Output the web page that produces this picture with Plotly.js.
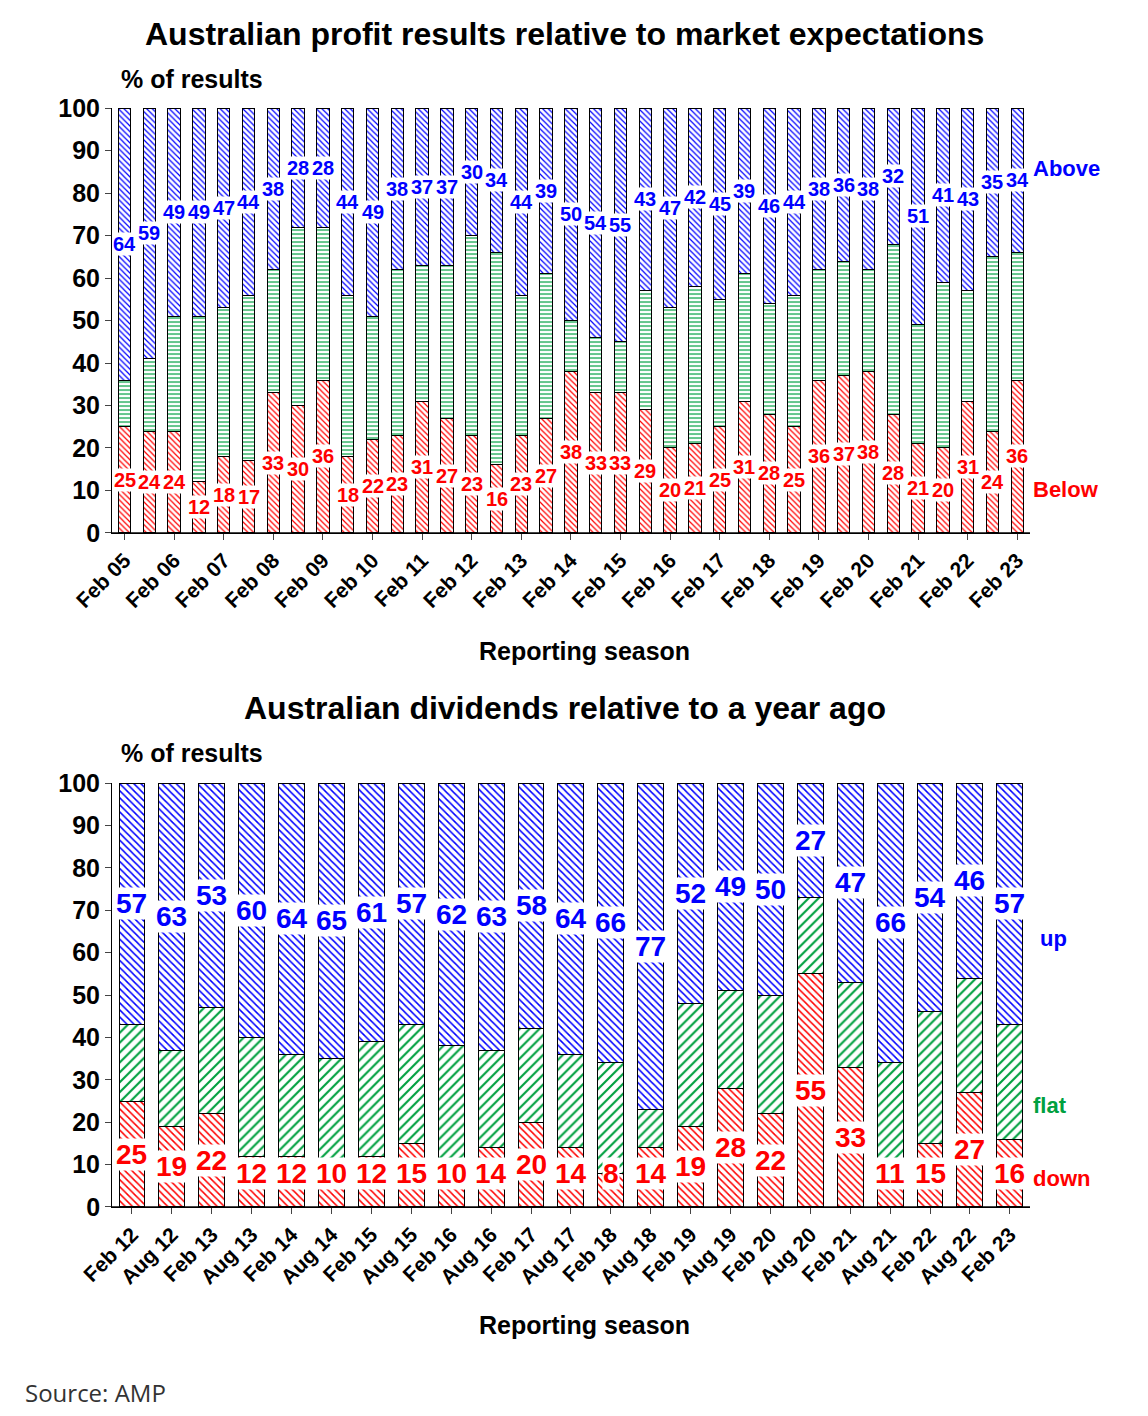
<!DOCTYPE html>
<html><head><meta charset="utf-8">
<script src="https://cdn.plot.ly/plotly-3.0.1.min.js"></script>
<style>body{margin:0;background:#fff}</style></head>
<body><div id="chart" style="width:1148px;height:1416px"></div>
<script>
// top chart: profit results vs expectations
var profitSeasons = ["Feb 05","Aug 05","Feb 06","Aug 06","Feb 07","Aug 07","Feb 08","Aug 08","Feb 09","Aug 09",
  "Feb 10","Aug 10","Feb 11","Aug 11","Feb 12","Aug 12","Feb 13","Aug 13","Feb 14","Aug 14","Feb 15","Aug 15",
  "Feb 16","Aug 16","Feb 17","Aug 17","Feb 18","Aug 18","Feb 19","Aug 19","Feb 20","Aug 20","Feb 21","Aug 21",
  "Feb 22","Aug 22","Feb 23"];
var profitBelow = [25,24,24,12,18,17,33,30,36,18,22,23,31,27,23,16,23,27,38,33,33,29,20,21,25,31,28,25,36,37,38,28,21,20,31,24,36];
var profitAbove = [64,59,49,49,47,44,38,28,28,44,49,38,37,37,30,34,44,39,50,54,55,43,47,42,45,39,46,44,38,36,38,32,51,41,43,35,34];
var profitFlat = profitAbove.map(function(a, i){ return 100 - a - profitBelow[i]; });
var profitTicks = profitSeasons.filter(function(s){ return s.indexOf("Feb") === 0; });

// bottom chart: dividends vs a year ago
var divSeasons = ["Feb 12","Aug 12","Feb 13","Aug 13","Feb 14","Aug 14","Feb 15","Aug 15","Feb 16","Aug 16",
  "Feb 17","Aug 17","Feb 18","Aug 18","Feb 19","Aug 19","Feb 20","Aug 20","Feb 21","Aug 21","Feb 22","Aug 22","Feb 23"];
var divDown = [25,19,22,12,12,10,12,15,10,14,20,14,8,14,19,28,22,55,33,11,15,27,16];
var divUp = [57,63,53,60,64,65,61,57,62,63,58,64,66,77,52,49,50,27,47,66,54,46,57];
var divFlat = divUp.map(function(u, i){ return 100 - u - divDown[i]; });

var RED = "#ff0000", GREEN = "#00a040", BLUE = "#0000ff";
var F = "Liberation Sans, Arial, sans-serif";

function bar(x, y, shape, col, xa, ya, sz, w) {
  return {type: "bar", x: x, y: y, xaxis: xa, yaxis: ya, hoverinfo: "skip", width: w,
    marker: {color: "white", line: {color: "#000", width: 1},
      pattern: {shape: shape, fgcolor: col, bgcolor: "white", size: sz, solidity: 0.3}}};
}

var data = [
  bar(profitSeasons, profitBelow, "\\", RED, "x", "y", 4, 0.5),
  bar(profitSeasons, profitFlat, "-", GREEN, "x", "y", 4, 0.5),
  bar(profitSeasons, profitAbove, "\\", BLUE, "x", "y", 4, 0.5),
  bar(divSeasons, divDown, "\\", RED, "x2", "y2", 5, 0.65),
  bar(divSeasons, divFlat, "/", GREEN, "x2", "y2", 7, 0.65),
  bar(divSeasons, divUp, "\\", BLUE, "x2", "y2", 5, 0.65)
];

var ann = [];
function lbl(xa, ya, x, y, v, col, size) {
  ann.push({xref: xa, yref: ya, x: x, y: y, text: "<b>" + v + "</b>", showarrow: false,
    bgcolor: "white", borderpad: 0, font: {family: F, size: size, color: col}});
}
profitSeasons.forEach(function(s, i){
  lbl("x", "y", s, profitBelow[i] / 2, profitBelow[i], RED, 20);
  lbl("x", "y", s, 100 - profitAbove[i] / 2, profitAbove[i], BLUE, 20);
});
divSeasons.forEach(function(s, i){
  lbl("x2", "y2", s, Math.max(divDown[i] / 2, 8), divDown[i], RED, 28);
  lbl("x2", "y2", s, 100 - divUp[i] / 2, divUp[i], BLUE, 28);
});
function txt(x, y, t, col, size, bold, anchor, fam) {
  ann.push({xref: "paper", yref: "paper", x: x, y: y, text: bold ? "<b>" + t + "</b>" : t, showarrow: false,
    xanchor: anchor || "center", yanchor: "middle", font: {family: fam || F, size: size, color: col}});
}
txt(0.492, 1 - 34/1416, "Australian profit results relative to market expectations", "#000", 32, true);
txt(0.492, 1 - 708/1416, "Australian dividends relative to a year ago", "#000", 32, true);
txt(0.104, 1 - 79/1416, "% of results", "#000", 25, true, "left");
txt(0.104, 1 - 753/1416, "% of results", "#000", 25, true, "left");
txt(0.509, 1 - 651/1416, "Reporting season", "#000", 25, true);
txt(0.509, 1 - 1325/1416, "Reporting season", "#000", 25, true);
txt(0.898, 1 - 168/1416, "Above", BLUE, 22, true, "left");
txt(0.898, 1 - 489/1416, "Below", RED, 22, true, "left");
txt(0.904, 1 - 938/1416, "up", BLUE, 22, true, "left");
txt(0.898, 1 - 1105/1416, "flat", GREEN, 22, true, "left");
txt(0.898, 1 - 1178/1416, "down", RED, 22, true, "left");
txt(0.02, 1 - 1392/1416, "Source: AMP", "#333", 24, false, "left", "Open Sans, DejaVu Sans, sans-serif");

var yax = {range: [0, 100], dtick: 10, showgrid: false, ticks: "outside", ticklen: 6, showline: true,
  linecolor: "#000", tickfont: {family: F, size: 25, color: "#000", weight: "bold"}};
var xax = {type: "category", showline: true, linecolor: "#000", ticks: "outside", ticklen: 6, tickangle: -45,
  tickfont: {family: F, size: 21, color: "#000", weight: "bold"}};

var layout = {
  width: 1148, height: 1416, barmode: "stack", showlegend: false,
  paper_bgcolor: "white", plot_bgcolor: "white",
  margin: {l: 0, r: 0, t: 0, b: 0},
  xaxis: Object.assign({}, xax, {domain: [0.0976, 0.897], anchor: "y", tickvals: profitTicks, ticktext: profitTicks}),
  yaxis: Object.assign({}, yax, {domain: [0.6236, 0.9237], anchor: "x"}),
  xaxis2: Object.assign({}, xax, {domain: [0.0976, 0.897], anchor: "y2"}),
  yaxis2: Object.assign({}, yax, {domain: [0.1476, 0.447], anchor: "x2"}),
  annotations: ann
};
Plotly.newPlot("chart", data, layout, {staticPlot: true});
</script></body></html>
